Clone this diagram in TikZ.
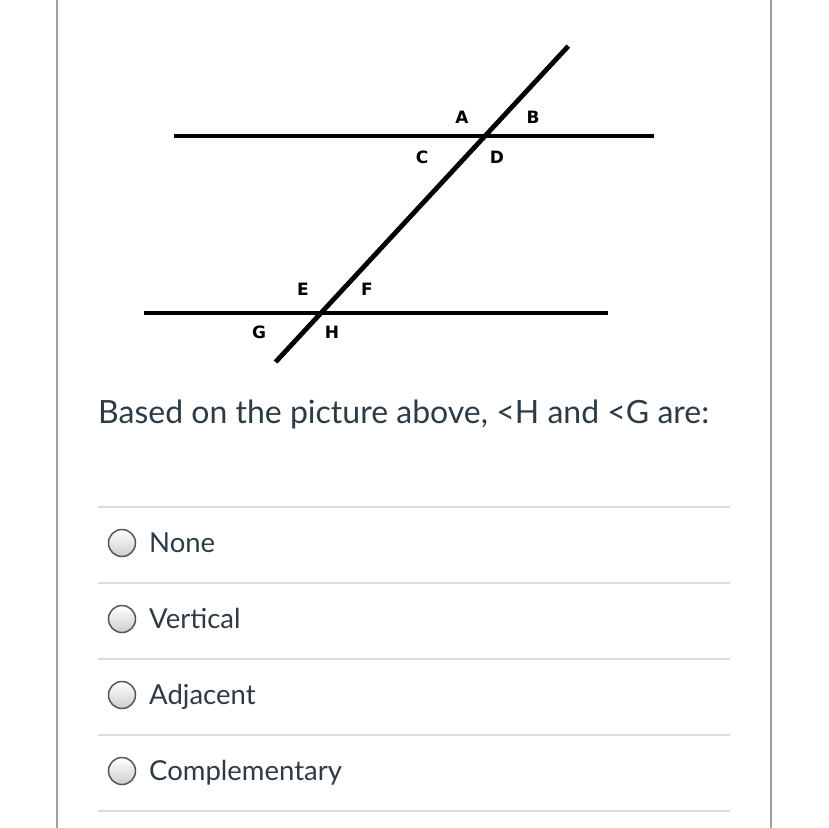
\documentclass[tikz,border=0pt]{standalone}
\usepackage{fontspec}
\setmainfont{Lato}
\newfontfamily\lblfont{DejaVu Sans}
\usetikzlibrary{calc}
\definecolor{inktext}{RGB}{45,59,69}
\definecolor{rulegray}{RGB}{220,220,220}
\definecolor{framegray}{RGB}{160,160,160}
\tikzset{
  geoline/.style={line width=4.8pt},
  anglbl/.style={inner sep=0pt,font=\lblfont\bfseries\fontsize{17}{17}\selectfont},
  radio/.style={circle,minimum size=27pt,inner sep=0pt,draw={rgb,255:red,85;green,85;blue,85},line width=1.5pt,top color=white,bottom color={rgb,255:red,205;green,205;blue,205}},
  optlbl/.style={anchor=base west,inner sep=0pt,text=inktext,font=\fontsize{27.5}{32}\selectfont},
  sepline/.style={rulegray,line width=2pt}
}
\begin{document}
\begin{tikzpicture}[x=1pt,y=1pt,yscale=-1,xscale=1]
\useasboundingbox (0,0) rectangle (828,828);

%Frame sides
\draw [framegray,line width=2.5pt] (57,0) -- (57,828) ;
\draw [framegray,line width=2.5pt] (771,0) -- (771,828) ;

%Intersection points
\coordinate (top) at (485,136);
\coordinate (bot) at (321,313);
%Parallel lines
\draw [geoline] (174,136) -- (top) -- (654,136) ;
\draw [geoline] (144,313) -- (bot) -- (608,313) ;
%Transversal
\draw [geoline] ($(top)!-0.508!(bot)$) -- (top) -- (bot) -- ($(bot)!-0.277!(top)$) ;

% Angle labels
\node [anglbl] (A) at (462,117) {A};
\node [anglbl] (B) at (533,117) {B};
\node [anglbl] (C) at (422,157) {C};
\node [anglbl] (D) at (497,157) {D};
\node [anglbl] (E) at (303,289) {E};
\node [anglbl] (F) at (367,289) {F};
\node [anglbl] (G) at (259,332) {G};
\node [anglbl] (H) at (332,332) {H};

% Text Node
\node [anchor=base west,inner sep=0pt,text=inktext,font=\fontsize{32}{38}\selectfont] (question) at (98,423) {Based on the picture above, <H and <G are:};

%Separators
\foreach \y in {507,583,659,735,811}
  \draw [sepline] (98,\y) -- (730,\y) ;

%Options
\node [radio] (r1) at (122,543) {};
\node [optlbl] (o1) at (149,552) {None};
\node [radio] (r2) at (122,619) {};
\node [optlbl] (o2) at (149,628) {Vertical};
\node [radio] (r3) at (122,695) {};
\node [optlbl] (o3) at (149,704) {Adjacent};
\node [radio] (r4) at (122,771) {};
\node [optlbl] (o4) at (149,780) {Complementary};

\end{tikzpicture}
\end{document}
